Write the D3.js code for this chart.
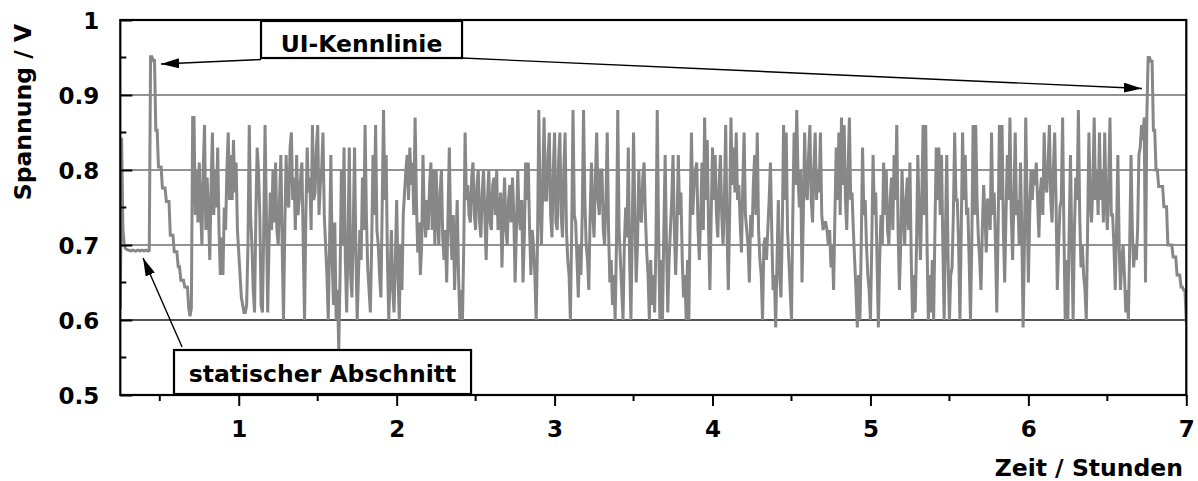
<!DOCTYPE html>
<html>
<head>
<meta charset="utf-8">
<script src="https://cdn.jsdelivr.net/npm/d3@7"></script>
<style>
  html, body { margin: 0; padding: 0; background: #fff; }
  svg { display: block; }
  text { font-family: "DejaVu Sans", sans-serif; font-weight: bold; fill: #000; }
</style>
</head>
<body>
<svg id="chart" width="1198" height="481"></svg>
<script>
// Cell voltage, logged every 30 seconds from t = 0.25 h to t = 7 h
const startHour = 0.25;
const stepHour = 1 / 120;

// static section and first UI characteristic (staircase)
const voltageStart = [
  0.615, 0.843, 0.720, 0.700, 0.695,
  0.694, 0.693, 0.693, 0.692, 0.693, 0.693, 0.692, 0.692, 0.693,
  0.693, 0.692, 0.693, 0.693, 0.692, 0.693, 0.693, 0.692, 0.693,
  0.951, 0.951, 0.946, 0.946, 0.853, 0.853, 0.804, 0.804, 0.804,
  0.776, 0.776, 0.776, 0.758, 0.758, 0.758, 0.713, 0.713, 0.713,
  0.691, 0.691, 0.691, 0.671, 0.671, 0.653, 0.653, 0.653,
  0.644, 0.644, 0.644, 0.616, 0.605, 0.616, 0.870
];

// dynamic load profile
const voltageDynamic = [
  0.87, 0.74, 0.80, 0.73, 0.81, 0.75, 0.70, 0.80, 0.86, 0.72,
  0.79, 0.74, 0.68, 0.78, 0.85, 0.74, 0.80, 0.75, 0.83, 0.72,
  0.66, 0.71, 0.66, 0.75, 0.72, 0.80, 0.85, 0.76, 0.82, 0.76,
  0.84, 0.77, 0.81, 0.72, 0.69, 0.66, 0.63, 0.62, 0.61, 0.61,
  0.62, 0.70, 0.86, 0.74, 0.70, 0.64, 0.61, 0.74, 0.83, 0.80,
  0.74, 0.62, 0.61, 0.72, 0.86, 0.74, 0.61, 0.70, 0.77, 0.72,
  0.80, 0.73, 0.81, 0.72, 0.70, 0.76, 0.82, 0.70, 0.60, 0.72,
  0.82, 0.76, 0.75, 0.83, 0.85, 0.76, 0.79, 0.72, 0.82, 0.74,
  0.76, 0.79, 0.81, 0.70, 0.60, 0.74, 0.83, 0.77, 0.79, 0.72,
  0.86, 0.76, 0.77, 0.83, 0.86, 0.74, 0.78, 0.80, 0.85, 0.74,
  0.70, 0.66, 0.60, 0.70, 0.82, 0.68, 0.62, 0.73, 0.60, 0.64,
  0.56, 0.66, 0.80, 0.70, 0.83, 0.68, 0.61, 0.70, 0.83, 0.66,
  0.63, 0.72, 0.83, 0.69, 0.60, 0.66, 0.72, 0.68, 0.79, 0.72,
  0.86, 0.74, 0.67, 0.64, 0.61, 0.70, 0.82, 0.74, 0.86, 0.72,
  0.70, 0.66, 0.63, 0.75, 0.88, 0.76, 0.82, 0.68, 0.60, 0.66,
  0.72, 0.64, 0.61, 0.68, 0.76, 0.66, 0.60, 0.70, 0.64, 0.74,
  0.77, 0.80, 0.82, 0.76, 0.83, 0.78, 0.81, 0.74, 0.87, 0.76,
  0.69, 0.73, 0.66, 0.70, 0.82, 0.74, 0.71, 0.76, 0.72, 0.78,
  0.81, 0.72, 0.80, 0.70, 0.80, 0.74, 0.70, 0.77, 0.80, 0.71,
  0.68, 0.72, 0.65, 0.74, 0.83, 0.72, 0.68, 0.74, 0.64, 0.70,
  0.76, 0.66, 0.60, 0.64, 0.60, 0.70, 0.85, 0.76, 0.78, 0.74,
  0.73, 0.79, 0.81, 0.74, 0.72, 0.78, 0.80, 0.73, 0.71, 0.77,
  0.80, 0.74, 0.68, 0.76, 0.80, 0.73, 0.72, 0.78, 0.79, 0.74,
  0.80, 0.72, 0.73, 0.77, 0.67, 0.74, 0.79, 0.72, 0.70, 0.76,
  0.78, 0.73, 0.79, 0.74, 0.65, 0.72, 0.80, 0.74, 0.72, 0.76,
  0.65, 0.71, 0.81, 0.76, 0.81, 0.72, 0.66, 0.72, 0.70, 0.66,
  0.60, 0.70, 0.88, 0.76, 0.70, 0.78, 0.87, 0.76, 0.76, 0.82,
  0.85, 0.74, 0.71, 0.80, 0.85, 0.73, 0.72, 0.81, 0.85, 0.74,
  0.71, 0.80, 0.85, 0.72, 0.68, 0.66, 0.60, 0.72, 0.88, 0.74,
  0.73, 0.68, 0.63, 0.70, 0.66, 0.74, 0.88, 0.76, 0.70, 0.68,
  0.64, 0.74, 0.81, 0.74, 0.71, 0.79, 0.85, 0.76, 0.74, 0.80,
  0.80, 0.72, 0.70, 0.76, 0.85, 0.72, 0.65, 0.68, 0.62, 0.66,
  0.60, 0.70, 0.88, 0.72, 0.68, 0.64, 0.60, 0.70, 0.75, 0.71,
  0.83, 0.68, 0.60, 0.72, 0.85, 0.74, 0.65, 0.70, 0.80, 0.74,
  0.73, 0.79, 0.81, 0.74, 0.69, 0.66, 0.60, 0.68, 0.62, 0.66,
  0.61, 0.70, 0.88, 0.72, 0.60, 0.68, 0.60, 0.72, 0.82, 0.70,
  0.61, 0.68, 0.72, 0.76, 0.82, 0.72, 0.66, 0.72, 0.82, 0.74,
  0.77, 0.68, 0.63, 0.66, 0.60, 0.68, 0.60, 0.74, 0.85, 0.74,
  0.78, 0.80, 0.81, 0.72, 0.68, 0.74, 0.81, 0.72, 0.87, 0.76,
  0.84, 0.72, 0.64, 0.74, 0.83, 0.76, 0.82, 0.74, 0.71, 0.78,
  0.82, 0.74, 0.70, 0.76, 0.86, 0.72, 0.64, 0.74, 0.87, 0.78,
  0.83, 0.77, 0.85, 0.76, 0.78, 0.73, 0.69, 0.78, 0.85, 0.74,
  0.72, 0.70, 0.65, 0.74, 0.71, 0.78, 0.82, 0.74, 0.85, 0.72,
  0.68, 0.66, 0.60, 0.70, 0.71, 0.68, 0.72, 0.76, 0.81, 0.72,
  0.64, 0.66, 0.59, 0.68, 0.76, 0.66, 0.63, 0.72, 0.86, 0.76,
  0.85, 0.72, 0.68, 0.64, 0.60, 0.74, 0.85, 0.78, 0.88, 0.79,
  0.75, 0.80, 0.65, 0.74, 0.85, 0.77, 0.76, 0.82, 0.86, 0.76,
  0.73, 0.80, 0.85, 0.76, 0.80, 0.77, 0.85, 0.74, 0.72, 0.73,
  0.73, 0.72, 0.70, 0.72, 0.67, 0.70, 0.64, 0.74, 0.83, 0.76,
  0.85, 0.74, 0.87, 0.78, 0.86, 0.76, 0.72, 0.80, 0.87, 0.76,
  0.77, 0.72, 0.68, 0.64, 0.59, 0.66, 0.60, 0.70, 0.83, 0.74,
  0.76, 0.70, 0.66, 0.64, 0.60, 0.70, 0.82, 0.74, 0.77, 0.68,
  0.59, 0.68, 0.74, 0.70, 0.81, 0.74, 0.80, 0.72, 0.70, 0.76,
  0.79, 0.72, 0.82, 0.76, 0.86, 0.72, 0.64, 0.70, 0.80, 0.74,
  0.70, 0.76, 0.79, 0.72, 0.81, 0.68, 0.60, 0.66, 0.61, 0.70,
  0.82, 0.74, 0.68, 0.76, 0.86, 0.74, 0.86, 0.70, 0.60, 0.66,
  0.61, 0.68, 0.60, 0.72, 0.83, 0.76, 0.83, 0.74, 0.82, 0.70,
  0.60, 0.72, 0.82, 0.68, 0.60, 0.66, 0.67, 0.74, 0.85, 0.76,
  0.76, 0.70, 0.60, 0.72, 0.85, 0.76, 0.82, 0.74, 0.75, 0.68,
  0.60, 0.70, 0.86, 0.74, 0.86, 0.76, 0.71, 0.68, 0.64, 0.72,
  0.78, 0.74, 0.69, 0.76, 0.76, 0.72, 0.85, 0.74, 0.77, 0.70,
  0.61, 0.72, 0.86, 0.76, 0.86, 0.72, 0.65, 0.74, 0.82, 0.76,
  0.87, 0.74, 0.68, 0.76, 0.85, 0.74, 0.76, 0.70, 0.81, 0.72,
  0.59, 0.70, 0.87, 0.76, 0.65, 0.74, 0.80, 0.76, 0.80, 0.78,
  0.81, 0.76, 0.71, 0.77, 0.79, 0.74, 0.85, 0.78, 0.77, 0.81,
  0.86, 0.76, 0.73, 0.80, 0.85, 0.76, 0.64, 0.70, 0.75, 0.76,
  0.87, 0.72, 0.60, 0.68, 0.60, 0.72, 0.82, 0.70, 0.60, 0.72,
  0.79, 0.76, 0.88, 0.74, 0.67, 0.70, 0.66, 0.64, 0.60, 0.72,
  0.85, 0.76, 0.73, 0.78, 0.87, 0.76, 0.80, 0.74, 0.85, 0.76,
  0.80, 0.73, 0.85, 0.76, 0.72, 0.78, 0.87, 0.74, 0.74, 0.70,
  0.64, 0.72, 0.82, 0.70, 0.64, 0.68, 0.70, 0.66, 0.61, 0.64,
  0.60, 0.70, 0.82, 0.72, 0.67, 0.70, 0.68, 0.72, 0.82, 0.83,
  0.86, 0.84, 0.87, 0.65, 0.87
];

// second UI characteristic (staircase)
const voltageEnd = [
  0.950, 0.950, 0.945, 0.945, 0.853, 0.853, 0.800, 0.800,
  0.778, 0.778, 0.778, 0.778, 0.751, 0.751, 0.751,
  0.700, 0.700, 0.700, 0.700, 0.684, 0.684, 0.684,
  0.660, 0.660, 0.660, 0.644, 0.644, 0.640, 0.640, 0.596
];

const xTicks = [1, 2, 3, 4, 5, 6, 7];
const xMinorTicks = [0.5, 1.5, 2.5, 3.5, 4.5, 5.5, 6.5];
const yTicks = [0.5, 0.6, 0.7, 0.8, 0.9, 1.0];
const yTickLabels = ["0.5", "0.6", "0.7", "0.8", "0.9", "1"];
const yMinorTicks = [0.55, 0.65, 0.75, 0.85, 0.95];
const gridValues = [0.6, 0.7, 0.8, 0.9];

const xTitle = "Zeit / Stunden";
const yTitle = "Spannung / V";

// Annotation boxes and arrows, placed in data units (hours, volts)
const uiLabel = { text: "UI-Kennlinie", x0: 1.141, x1: 2.414, y0: 0.9987, y1: 0.9493 };
const uiArrows = [
  { from: [1.141, 0.9473], to: [0.508, 0.9413] },
  { from: [2.414, 0.9493], to: [6.719, 0.9087] }
];
const staticLabel = { text: "statischer Abschnitt", x0: 0.590, x1: 2.471, y0: 0.560, y1: 0.5013 };
const staticArrow = { from: [0.641, 0.564], to: [0.394, 0.6827] };

const svg = d3.select("#chart");

const x = d3.scaleLinear().domain([0.25, 7]).range([120.3, 1186.3]);
const y = d3.scaleLinear().domain([0.5, 1.0]).range([395, 20]);

const voltage = voltageStart.concat(voltageDynamic, voltageEnd);
const points = voltage.map((v, i) => ({ t: startHour + i * stepHour, v }));

// grid lines
svg.append("g").selectAll("line").data(gridValues).join("line")
  .attr("x1", x.range()[0]).attr("x2", x.range()[1])
  .attr("y1", d => y(d)).attr("y2", d => y(d))
  .attr("stroke", d => d === 0.6 ? "#1a1a1a" : "#6e6e6e")
  .attr("stroke-width", 1.6);

// clip
svg.append("clipPath").attr("id", "plotClip").append("rect")
  .attr("x", x.range()[0]).attr("y", y.range()[1])
  .attr("width", x.range()[1] - x.range()[0]).attr("height", y.range()[0] - y.range()[1]);

// voltage trace
const line = d3.line().x(d => x(d.t)).y(d => y(d.v));
svg.append("path")
  .datum(points)
  .attr("clip-path", "url(#plotClip)")
  .attr("d", line)
  .attr("fill", "none")
  .attr("stroke", "#878787")
  .attr("stroke-width", 3)
  .attr("stroke-linejoin", "miter")
  .attr("stroke-miterlimit", 1.5);

// y axis: ticks pointing inward
const yAxis = d3.axisLeft(y).tickValues(yTicks).tickSize(-12)
  .tickFormat((d, i) => yTickLabels[i]).tickPadding(0);
const gy = svg.append("g").attr("transform", `translate(${x.range()[0]},0)`).call(yAxis);
gy.select(".domain").remove();
gy.attr("font-family", null).attr("font-size", null);
gy.selectAll(".tick line").attr("stroke", "#000").attr("stroke-width", 2);
gy.selectAll(".tick text")
  .attr("x", -21).attr("dy", "0.36em")
  .style("font-size", "23px");
svg.append("g").selectAll("line").data(yMinorTicks).join("line")
  .attr("x1", x.range()[0]).attr("x2", x.range()[0] + 6)
  .attr("y1", d => y(d)).attr("y2", d => y(d))
  .attr("stroke", "#000").attr("stroke-width", 2);

// x axis: ticks pointing outward
const xAxis = d3.axisBottom(x).tickValues(xTicks).tickSize(11).tickPadding(0).tickFormat(d3.format("d"));
const gx = svg.append("g").attr("transform", `translate(0,${y.range()[0]})`).call(xAxis);
gx.select(".domain").remove();
gx.attr("font-family", null).attr("font-size", null);
gx.selectAll(".tick line").attr("stroke", "#000").attr("stroke-width", 2);
gx.selectAll(".tick text")
  .attr("y", 42).attr("dy", null)
  .style("font-size", "23px");
svg.append("g").selectAll("line").data(xMinorTicks).join("line")
  .attr("x1", d => x(d)).attr("x2", d => x(d))
  .attr("y1", y.range()[0]).attr("y2", y.range()[0] + 6)
  .attr("stroke", "#000").attr("stroke-width", 2);

// frame
svg.append("rect")
  .attr("x", x.range()[0]).attr("y", y.range()[1])
  .attr("width", x.range()[1] - x.range()[0]).attr("height", y.range()[0] - y.range()[1])
  .attr("fill", "none").attr("stroke", "#000").attr("stroke-width", 2.2);

// axis titles
svg.append("text").attr("x", 1183).attr("y", 476).attr("text-anchor", "end")
  .style("font-size", "23.5px").text(xTitle);
svg.append("text").attr("transform", "translate(31,112) rotate(-90)")
  .attr("text-anchor", "middle").style("font-size", "23.5px").text(yTitle);

// arrows
const defs = svg.append("defs");
defs.append("marker").attr("id", "head").attr("viewBox", "0 0 18 10")
  .attr("refX", 18).attr("refY", 5).attr("markerWidth", 18).attr("markerHeight", 10)
  .attr("markerUnits", "userSpaceOnUse").attr("orient", "auto")
  .append("path").attr("d", "M0,0 L18,5 L0,10 Z").attr("fill", "#000");

const arrowData = uiArrows.concat([staticArrow]);
svg.append("g").selectAll("line").data(arrowData).join("line")
  .attr("x1", d => x(d.from[0])).attr("y1", d => y(d.from[1]))
  .attr("x2", d => x(d.to[0])).attr("y2", d => y(d.to[1]))
  .attr("stroke", "#000").attr("stroke-width", 1.4)
  .attr("marker-end", "url(#head)");

// labelled boxes
function labelBox(b, fontSize, baselineOffset) {
  const g = svg.append("g");
  const bx = x(b.x0), by = y(b.y0), bw = x(b.x1) - x(b.x0), bh = y(b.y1) - y(b.y0);
  g.append("rect").attr("x", bx).attr("y", by).attr("width", bw).attr("height", bh)
    .attr("fill", "#fff").attr("stroke", "#000").attr("stroke-width", 2.2);
  g.append("text").attr("x", bx + bw / 2).attr("y", by + baselineOffset)
    .attr("text-anchor", "middle").style("font-size", fontSize + "px").text(b.text);
}
labelBox(uiLabel, 23.5, 31);
labelBox(staticLabel, 23.5, 32);
</script>
</body>
</html>
